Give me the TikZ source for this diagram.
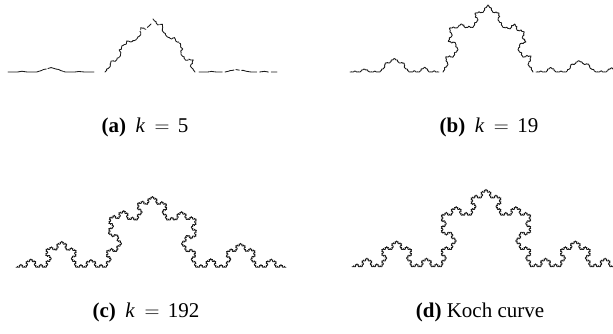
\documentclass[tikz,border=0pt]{standalone}
\usepackage[no-math]{fontspec}
\setmainfont{Liberation Serif}
\tikzset{
  kochline/.style={line width=0.85pt, black!90, line join=round, line cap=round},
  capt/.style={inner sep=0pt, anchor=base, font=\fontsize{21}{25}\selectfont},
}
% height factor of the bump at each level
\newcommand\kochsetf[5]{%
  \expandafter\def\csname kochf1\endcsname{#1}%
  \expandafter\def\csname kochf2\endcsname{#2}%
  \expandafter\def\csname kochf3\endcsname{#3}%
  \expandafter\def\csname kochf4\endcsname{#4}%
  \expandafter\def\csname kochf5\endcsname{#5}}
\def\kochjit{0}\def\kochgap{0}\def\kochpts{}
\newcommand\kochleaf[2]{%
  \pgfmathsetmacro\kr{rnd}%
  \ifdim\kr pt<\kochgap pt
    \xdef\kochpts{\kochpts\space(#1,#2)}%
  \else
    \xdef\kochpts{\kochpts\space--(#1,#2)}%
  \fi}
\newcommand\kochsplit[5]{%
  \edef\kfz{\csname kochf\number#5\endcsname}%
  \pgfmathsetmacro\kdx{(#3-#1)/3}%
  \pgfmathsetmacro\kdy{(#4-#2)/3}%
  \pgfmathsetmacro\kf{\kfz*(1+\kochjit*rand)}%
  \pgfmathsetmacro\ks{1.5+0.4*\kochjit*rand}%
  \pgfmathsetmacro\kax{#1+\kdx}%
  \pgfmathsetmacro\kay{#2+\kdy}%
  \pgfmathsetmacro\kbx{#1+\ks*\kdx-0.866*\kf*\kdy}%
  \pgfmathsetmacro\kby{#2+\ks*\kdy+0.866*\kf*\kdx}%
  \pgfmathsetmacro\kcx{#1+2*\kdx}%
  \pgfmathsetmacro\kcy{#2+2*\kdy}%
  \edef\knext{%
    \noexpand\kochseg{#1}{#2}{\kax}{\kay}{\the\numexpr#5+1\relax}%
    \noexpand\kochseg{\kax}{\kay}{\kbx}{\kby}{\the\numexpr#5+1\relax}%
    \noexpand\kochseg{\kbx}{\kby}{\kcx}{\kcy}{\the\numexpr#5+1\relax}%
    \noexpand\kochseg{\kcx}{\kcy}{#3}{#4}{\the\numexpr#5+1\relax}}%
  \knext}
\newcommand\kochseg[5]{%
  \ifnum#5>\kochmax\relax
    \kochleaf{#3}{#4}%
  \else
    \kochsplit{#1}{#2}{#3}{#4}{#5}%
  \fi}
\newcommand\kochpiece[5]{%
  \def\kochmax{#5}%
  \xdef\kochpts{\kochpts\space(#1,#2)}%
  \kochseg{#1}{#2}{#3}{#4}{1}}
\newcommand\kochflush[1]{%
  \edef\kochdraw{\noexpand\draw[#1]\kochpts;}\kochdraw
  \gdef\kochpts{}}
\newcommand\keq{\hspace{0.45em}$=$\hspace{0.4em}}

\begin{document}
\begin{tikzpicture}[x=1pt,y=1pt]
\useasboundingbox (0,0) rectangle (613,333);
\begin{scope}
\clip (0,0) rectangle (613,333);
% (a)
\pgfmathsetseed{11}
\def\kochjit{0.3}\def\kochgap{0.12}
\kochsetf{0.15}{0.08}{0}{0}{0}
\kochpiece{8}{261}{94}{261}{3}
\kochpiece{199}{261}{277}{261}{3}
\def\kochjit{0.6}\def\kochgap{0.04}
\kochsetf{0.7}{0.6}{0.3}{0}{0}
\kochpiece{105}{261}{151}{309}{3}
\kochpiece{153}{314}{195}{261}{3}
\kochflush{kochline}
% (b)
\pgfmathsetseed{5}
\def\kochjit{0.25}\def\kochgap{0.01}
\kochsetf{0.47}{0.45}{0.4}{0.3}{0}
\kochpiece{350}{261}{439}{261}{4}
\kochpiece{536}{261}{626}{261}{4}
\def\kochgap{0}
\kochsetf{0.85}{0.75}{0.5}{0.35}{0}
\kochpiece{443}{261}{488}{328}{4}
\kochpiece{488}{328}{533}{261}{4}
\kochflush{kochline}
% (c)
\pgfmathsetseed{3}
\def\kochjit{0.1}\def\kochgap{0}
\kochsetf{1}{1}{1}{1}{1}
\kochpiece{16}{65.7}{286}{65.7}{5}
\kochflush{kochline}
% (d)
\def\kochjit{0}
\kochpiece{352}{66.3}{620}{66.3}{5}
\kochflush{kochline}
\end{scope}
\node[capt] (capa) at (145,201) {\textbf{(a)}\hspace{0.45em}\textit{k}\keq 5};
\node[capt] (capb) at (489,201) {\textbf{(b)}\hspace{0.45em}\textit{k}\keq 19};
\node[capt] (capc) at (146,16) {\textbf{(c)}\hspace{0.45em}\textit{k}\keq 192};
\node[capt] (capd) at (480,16) {\textbf{(d)} Koch curve};
\end{tikzpicture}
\end{document}
